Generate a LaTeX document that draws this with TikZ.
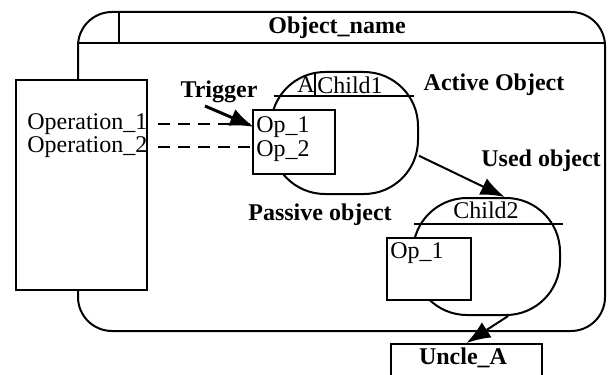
\documentclass[tikz,border=0pt]{standalone}
\usepackage{fontspec}
\setmainfont{Liberation Serif}
\usetikzlibrary{shapes,arrows.meta}

\tikzset{
  obj/.style={shape=rectangle,draw=black,fill=white,line width=1pt,inner sep=0pt,rounded corners=27pt},
  opbox/.style={shape=rectangle,draw=black,fill=white,line width=1pt,inner sep=0pt},
  txt/.style={font=\fontsize{12}{11}\selectfont,inner sep=1pt},
  lbl/.style={font=\fontsize{12}{11}\selectfont\bfseries,inner sep=1pt},
  link/.style={draw=black,line width=1pt,-{Latex[length=12pt,width=9pt]}},
}

\begin{document}
\begin{tikzpicture}[x=0.5pt,y=-0.5pt]
\useasboundingbox (0,0) rectangle (608,374);
\clip (0,0) rectangle (608,374);
\node[obj,rounded corners=17pt,minimum width=263.5pt,minimum height=159.5pt] (0) at (341.5,171.5) {};
\path [draw=black,line width=1pt] (78,43) -- (605,43);
\path [draw=black,line width=1pt] (119,12) -- (119,43);
\node[lbl] (1) at (337,28) {Object\_name};

\node[opbox,minimum width=65.75pt,minimum height=105pt] (2) at (81.25,185) {};
\node[txt,anchor=west] (3) at (25,124) {Operation\_1};
\node[txt,anchor=west] (4) at (25,147) {Operation\_2};

\node[obj,minimum width=73.5pt,minimum height=61pt] (5) at (344.5,133) {};
\path [draw=black,line width=1pt] (274,96) -- (414,96);
\path [draw=black,line width=1pt] (315,72) -- (315,96);
\node[txt] (6) at (306,85) {A};
\node[txt] (7) at (350,85) {Child1};
\node[opbox,minimum width=41pt,minimum height=32pt] (8) at (294,142) {};
\node[txt,anchor=west] (9) at (254,127) {Op\_1};
\node[txt,anchor=west] (10) at (254,151) {Op\_2};

\path [draw=black,line width=1pt,dash pattern=on 6pt off 4pt,shorten <=4pt] (3.east) -- (3.east -| 9.west);
\path [draw=black,line width=1pt,dash pattern=on 6pt off 4pt,shorten <=4pt] (4.east) -- (4.east -| 10.west);

\coordinate (11) at (205,106);
\path [link,line width=1.5pt] (11) -- (9.west);
\node[lbl] (12) at (219,92) {Trigger};
\node[lbl] (13) at (494,85) {Active Object};

\node[obj,minimum width=73.5pt,minimum height=58.5pt] (14) at (486.5,256.5) {};
\path [draw=black,line width=1pt] (414,224) -- (563,224);
\node[txt] (15) at (486,210) {Child2};
\node[opbox,minimum width=42pt,minimum height=31pt] (16) at (429,269) {};
\node[txt,anchor=west] (17) at (388,253) {Op\_1};
\node[lbl] (18) at (541,161) {Used object};
\node[lbl] (19) at (320,215) {Passive object};

\node[opbox,anchor=north,minimum width=75.5pt,minimum height=20pt] (20) at (466.5,343) {};
\node[lbl] (21) at (463,358) {Uncle\_A};

\path [link] (5.-17) -- (14.73);
\path [link] (14.-70) -- (20.north);
\end{tikzpicture}
\end{document}
